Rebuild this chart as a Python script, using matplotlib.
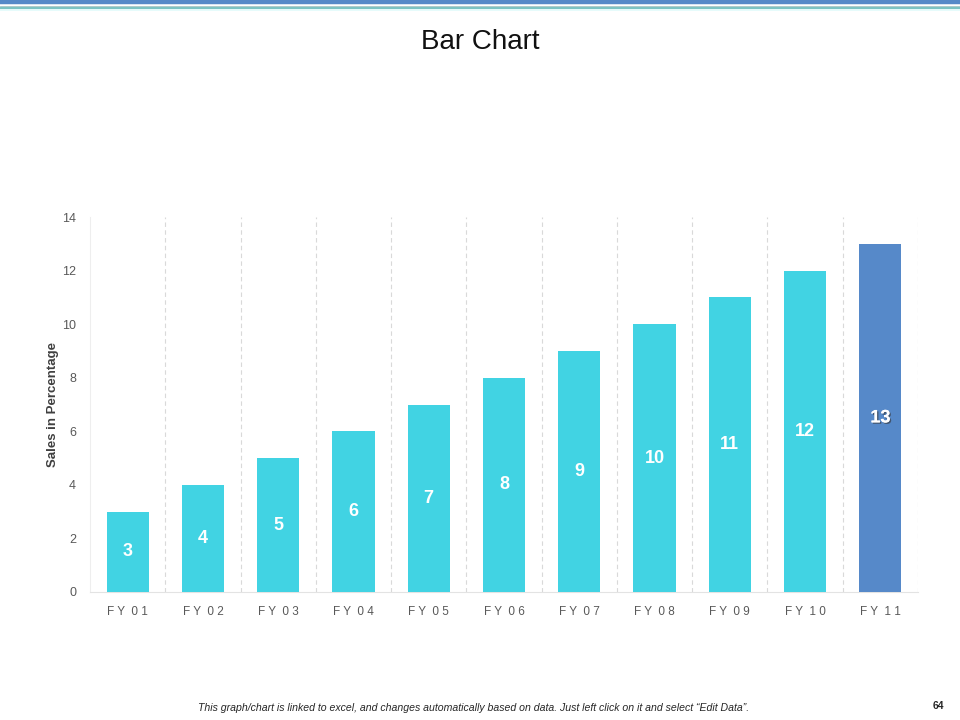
import matplotlib.pyplot as plt
import matplotlib.patheffects as pe
from matplotlib.lines import Line2D
import numpy as np

# data
categories = ["FY 01", "FY 02", "FY 03", "FY 04", "FY 05", "FY 06",
              "FY 07", "FY 08", "FY 09", "FY 10", "FY 11"]
sales = [3, 4, 5, 6, 7, 8, 9, 10, 11, 12, 13]
yticks = [0, 2, 4, 6, 8, 10, 12, 14]

cyan = "#41D3E3"
blue = "#5689C9"
colors = [cyan] * (len(sales) - 1) + [blue]

plt.rcParams["font.family"] = ["Liberation Sans", "DejaVu Sans"]

fig = plt.figure(figsize=(9.6, 7.2), dpi=100)

# header bands
fig.add_artist(Line2D([0, 1], [1 - 2 / 720, 1 - 2 / 720], color="#5689C8", linewidth=3.2))
fig.add_artist(Line2D([0, 1], [1 - 5.5 / 720, 1 - 5.5 / 720], color="#A9C4C4", linewidth=0.6))
fig.add_artist(Line2D([0, 1], [1 - 8 / 720, 1 - 8 / 720], color="#7DC3C3", linewidth=1.6))
fig.add_artist(Line2D([0, 1], [1 - 10 / 720, 1 - 10 / 720], color="#E2FBFB", linewidth=1.2))

fig.text(0.5, 1 - 42 / 720, "Bar Chart", ha="center", va="center", fontsize=20, color="#111111")

ax = fig.add_axes([90 / 960, 1 - 592 / 720, 828 / 960, 375 / 720])
x = np.arange(len(categories))
bars = ax.bar(x, sales, width=0.56, color=colors, zorder=3)

for i, (b, v) in enumerate(zip(bars, sales)):
    t = ax.text(b.get_x() + b.get_width() / 2, v / 2, str(v), ha="center", va="center",
                fontsize=13, fontweight="bold", color="white", zorder=4)
    if i == len(sales) - 1:
        t.set_path_effects([pe.withSimplePatchShadow(offset=(1, -1), shadow_rgbFace="#333333", alpha=0.6),
                            pe.Normal()])

ax.set_xlim(-0.5, len(categories) - 0.5)
ax.set_ylim(0, 14)
ax.set_yticks(yticks)
ax.set_xticks(x)
# letter-spaced labels, e.g. "F Y  0 1"
ax.set_xticklabels([" ".join(c.split()[0]) + "  " + " ".join(c.split()[1]) for c in categories])

for xb in np.arange(0.5, len(categories) - 0.5 + 1, 1):
    ax.axvline(xb, color="#D9D9D9", linestyle=(0, (4, 3)), linewidth=0.8, zorder=1)

for s in ["top", "right"]:
    ax.spines[s].set_visible(False)
ax.spines["left"].set_color("#EEEEEE")
ax.spines["bottom"].set_color("#E3E3E3")
ax.tick_params(axis="both", length=0, colors="#595959")
ax.tick_params(axis="x", pad=10, labelsize=8.5)
ax.tick_params(axis="y", pad=10, labelsize=9)

ax.set_ylabel("Sales in Percentage", fontsize=9.5, fontweight="bold", color="#404040", labelpad=2)

fig.text(198 / 960, 1 - 708 / 720, "This graph/chart is linked to excel, and changes automatically based on data. "
         "Just left click on it and select \u201cEdit Data\u201d.",
         ha="left", va="center", fontsize=7.6, style="italic", color="#262626")
fig.text(938 / 960, 1 - 706 / 720, "64", ha="center", va="center", fontsize=7.5,
         fontweight="bold", color="#262626")

fig.savefig("out.png", dpi=100)
